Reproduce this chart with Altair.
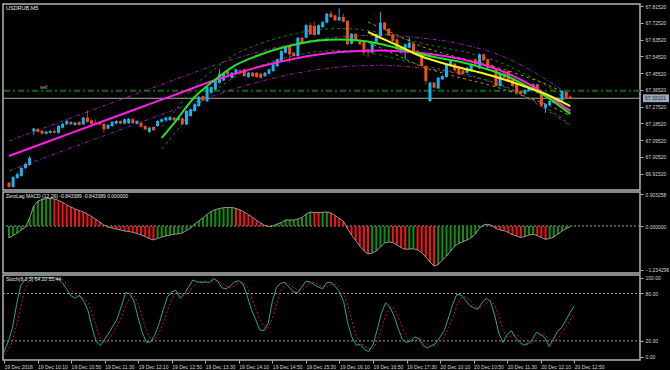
import altair as alt
import pandas as pd

# ---------------- data ----------------
OPEN = [66.867,66.844,66.892,66.903,66.946,66.962,67.144,67.155,67.146,67.130,67.135,67.144,67.135,67.162,67.180,67.193,67.177,67.193,67.180,67.216,
        67.202,67.189,67.189,67.183,67.157,67.171,67.184,67.198,67.184,67.186,67.207,67.184,67.189,67.171,67.139,67.166,67.171,67.194,67.202,67.203,
        67.216,67.203,67.212,67.180,67.225,67.252,67.278,67.332,67.305,67.350,67.368,67.403,67.416,67.466,67.430,67.452,67.470,67.475,67.434,67.457,
        67.457,67.452,67.439,67.452,67.466,67.493,67.520,67.565,67.600,67.565,67.547,67.645,67.645,67.712,67.708,67.663,67.702,67.726,67.774,67.765,
        67.738,67.756,67.735,67.613,67.666,67.627,67.622,67.583,67.565,67.618,67.654,67.726,67.693,67.663,67.636,67.565,67.583,67.591,67.613,67.574,
        67.565,67.493,67.305,67.404,67.373,67.422,67.434,67.493,67.506,67.484,67.470,67.457,67.466,67.529,67.481,67.556,67.529,67.497,67.475,67.386,
        67.449,67.466,67.422,67.395,67.359,67.344,67.359,67.368,67.395,67.341,67.269,67.284,67.305,67.300,67.309,67.354,67.329]
HIGH = [66.872,66.902,66.920,66.950,66.975,67.010,67.160,67.160,67.150,67.145,67.148,67.157,67.175,67.188,67.207,67.198,67.193,67.198,67.220,67.255,
        67.207,67.207,67.193,67.188,67.181,67.198,67.202,67.202,67.211,67.214,67.216,67.202,67.195,67.175,67.166,67.170,67.202,67.211,67.220,67.223,
        67.220,67.220,67.216,67.256,67.265,67.292,67.331,67.336,67.384,67.384,67.417,67.475,67.456,67.470,67.461,67.479,67.474,67.479,67.461,67.461,
        67.461,67.456,67.461,67.479,67.506,67.533,67.578,67.599,67.604,67.569,67.649,67.649,67.717,67.726,67.731,67.716,67.733,67.778,67.788,67.769,
        67.803,67.774,67.739,67.670,67.670,67.631,67.626,67.587,67.622,67.667,67.783,67.730,67.697,67.667,67.640,67.595,67.614,67.645,67.617,67.578,
        67.569,67.497,67.408,67.408,67.434,67.443,67.506,67.524,67.510,67.488,67.474,67.488,67.506,67.533,67.560,67.560,67.533,67.501,67.479,67.456,
        67.453,67.470,67.426,67.399,67.363,67.367,67.381,67.399,67.399,67.345,67.292,67.309,67.309,67.325,67.363,67.358,67.333]
LOW = [66.840,66.840,66.888,66.900,66.940,66.958,67.123,67.137,67.125,67.126,67.131,67.132,67.131,67.158,67.176,67.176,67.174,67.174,67.176,67.190,
       67.180,67.176,67.176,67.135,67.153,67.168,67.180,67.180,67.180,67.182,67.182,67.180,67.163,67.149,67.135,67.145,67.167,67.190,67.198,67.199,
       67.198,67.199,67.176,67.176,67.221,67.248,67.274,67.305,67.301,67.346,67.364,67.399,67.412,67.444,67.426,67.448,67.459,67.435,67.430,67.435,
       67.430,67.426,67.435,67.448,67.462,67.489,67.516,67.561,67.511,67.543,67.543,67.614,67.641,67.659,67.656,67.659,67.698,67.722,67.752,67.734,
       67.734,67.727,67.606,67.609,67.627,67.606,67.547,67.541,67.561,67.614,67.650,67.686,67.654,67.623,67.579,67.561,67.529,67.587,67.555,67.552,
       67.489,67.395,67.300,67.373,67.369,67.418,67.430,67.489,67.466,67.445,67.448,67.453,67.462,67.498,67.477,67.520,67.480,67.480,67.382,67.382,
       67.426,67.409,67.382,67.346,67.340,67.340,67.355,67.364,67.346,67.274,67.242,67.280,67.291,67.296,67.305,67.319,67.316]
CLOSE = [66.844,66.897,66.913,66.946,66.967,66.999,67.157,67.140,67.130,67.141,67.144,67.135,67.171,67.183,67.198,67.180,67.189,67.177,67.216,67.193,
         67.183,67.180,67.180,67.153,67.177,67.193,67.198,67.184,67.207,67.210,67.186,67.198,67.167,67.153,67.162,67.149,67.198,67.207,67.216,67.219,
         67.202,67.216,67.180,67.252,67.261,67.288,67.327,67.309,67.380,67.380,67.413,67.449,67.452,67.448,67.457,67.475,67.463,67.439,67.457,67.439,
         67.434,67.430,67.457,67.475,67.502,67.529,67.574,67.595,67.556,67.547,67.645,67.618,67.713,67.663,67.660,67.712,67.729,67.774,67.756,67.738,
         67.756,67.731,67.610,67.666,67.631,67.610,67.565,67.570,67.618,67.663,67.726,67.690,67.658,67.627,67.583,67.591,67.610,67.618,67.559,67.556,
         67.493,67.413,67.404,67.377,67.430,67.439,67.502,67.520,67.470,67.449,67.452,67.484,67.502,67.502,67.556,67.524,67.484,67.484,67.386,67.452,
         67.430,67.413,67.386,67.350,67.344,67.363,67.377,67.395,67.350,67.278,67.288,67.305,67.295,67.321,67.359,67.323,67.320]

# regression channels (bar index, price)
MAG_I = [0, 10, 20, 30, 40, 50, 60, 70, 80, 90, 100, 110, 120, 130, 136]
MAG_MID = [67.010, 67.092, 67.174, 67.256, 67.337, 67.418, 67.485, 67.536, 67.568, 67.577, 67.563, 67.528, 67.461, 67.343, 67.252]
MAG_UP = [67.091, 67.173, 67.255, 67.337, 67.418, 67.499, 67.566, 67.617, 67.649, 67.658, 67.643, 67.609, 67.541, 67.423, 67.332]
MAG_DN = [66.930, 67.012, 67.094, 67.176, 67.257, 67.337, 67.405, 67.456, 67.488, 67.497, 67.482, 67.447, 67.380, 67.262, 67.171]

GRN_I = [37, 40, 45, 50, 55, 60, 65, 70, 75, 80, 85, 90, 95, 100, 105, 110, 115, 120, 125, 130, 136]
GRN_MID = [67.107, 67.187, 67.327, 67.421, 67.499, 67.547, 67.584, 67.611, 67.630, 67.635, 67.630, 67.611, 67.584, 67.556, 67.533, 67.512, 67.482, 67.445, 67.391, 67.332, 67.236]
GRN_UP = [67.166, 67.246, 67.386, 67.480, 67.558, 67.606, 67.643, 67.670, 67.689, 67.694, 67.689, 67.670, 67.643, 67.615, 67.592, 67.571, 67.541, 67.504, 67.450, 67.391, 67.295]
GRN_DN = [67.048, 67.128, 67.268, 67.362, 67.439, 67.488, 67.525, 67.552, 67.571, 67.576, 67.571, 67.552, 67.525, 67.497, 67.474, 67.453, 67.423, 67.386, 67.332, 67.273, 67.177]

YEL_I = [87, 90, 95, 100, 105, 110, 115, 120, 125, 130, 136]
YEL_MID = [67.676, 67.645, 67.595, 67.544, 67.509, 67.480, 67.453, 67.421, 67.383, 67.343, 67.278]
YEL_UP = [67.729, 67.699, 67.649, 67.598, 67.563, 67.533, 67.507, 67.474, 67.437, 67.397, 67.332]
YEL_DN = [67.622, 67.591, 67.541, 67.490, 67.456, 67.426, 67.399, 67.367, 67.329, 67.289, 67.225]

SELL_LEVEL = 67.361
CUR_PRICE = 67.320
CUR_LABEL = "67.32101"
PRICE_TICKS = [67.8152, 67.7252, 67.6352, 67.5452, 67.4552, 67.3652, 67.2752, 67.1852, 67.0952, 67.0052, 66.9152]

MACD = [-0.339,-0.268,-0.198,-0.113,-0.028,0.226,0.565,0.706,0.749,0.771,0.777,0.763,0.720,0.664,0.593,0.537,0.480,0.438,0.396,0.339,
        0.268,0.189,0.113,0.028,-0.028,-0.057,-0.085,-0.113,-0.141,-0.155,-0.178,-0.212,-0.254,-0.297,-0.353,-0.395,-0.353,-0.311,-0.282,-0.254,
        -0.234,-0.218,-0.198,-0.127,-0.057,0.056,0.141,0.226,0.325,0.410,0.466,0.494,0.517,0.523,0.523,0.494,0.452,0.395,0.325,0.240,
        0.155,0.085,0.014,-0.014,0.004,0.056,0.099,0.169,0.169,0.169,0.198,0.240,0.339,0.395,0.381,0.376,0.387,0.395,0.367,0.297,
        0.212,0.141,-0.071,-0.254,-0.410,-0.565,-0.706,-0.791,-0.763,-0.706,-0.593,-0.480,-0.452,-0.466,-0.537,-0.607,-0.658,-0.650,-0.641,-0.678,
        -0.749,-0.876,-1.017,-1.130,-1.088,-0.960,-0.847,-0.706,-0.565,-0.494,-0.438,-0.395,-0.331,-0.226,-0.057,0.028,0.048,0.014,-0.071,-0.113,
        -0.133,-0.184,-0.240,-0.282,-0.325,-0.297,-0.254,-0.234,-0.268,-0.325,-0.376,-0.353,-0.311,-0.226,-0.141,-0.071,-0.020]
MACD_TICKS = [0.903258, 0.0, -1.234296]

STOCH_MAIN = [6,19,36,66,90,98,100,100,100,100,100,100,100,98,93,85,77,74,78,70.5,
              59,37,19,14,22,30,39,48,64,81,80,70,49,30,18,19,28,42,60,76,
              82,84,74,79,88,97,95,94,94.6,94,99,95.5,87,86,89.5,95,96,92,77,60,
              47,34,33,42,70,88,93,94,88,82,81,88,95.5,94.6,91,88,86,94,94,89,
              82,70,42,24,14.5,15.5,9,6.5,15,34,55,68,63,52,36,22,18,20,25,23,
              14,11,14,17,25,33,49,66,79,78,72,65,62,60,68,74,70,53,30,18,
              28,33,24,18,14.5,16.5,22,31,28,24,13,22,32,37,46,56,64.1]
STOCH_SIG = [3,8,20,40,64,85,96,99,100,100,100,100,100,99,97,92,85,79,76,74,
             69,56,38,23,18,22,30,39,50,64,75,77,66,50,32,22,22,30,43,59,
             73,81,80,79,80,88,93,95,95,94,96,96,94,90,87,90,93,94,88,76,
             61,47,38,36,48,67,84,92,92,88,84,84,88,93,94,91,88,89,91,92,
             88,80,65,45,27,18,13,10,10,19,35,52,62,61,50,37,25,20,21,23,
             21,16,13,14,19,25,36,49,65,74,76,72,66,62,63,67,71,66,51,34,
             25,26,28,25,19,16,18,23,27,28,22,20,22,30,38,46,55.44]
STOCH_TICKS = [100, 80, 20, 0]

TIME_LABELS = ["19 Dec 2018", "19 Dec 10:10", "19 Dec 10:50", "19 Dec 11:30", "19 Dec 12:10",
               "19 Dec 12:50", "19 Dec 13:30", "19 Dec 14:10", "19 Dec 14:50", "19 Dec 15:30",
               "19 Dec 16:10", "19 Dec 16:50", "19 Dec 17:30", "20 Dec 10:10", "20 Dec 10:50",
               "20 Dec 11:30", "20 Dec 12:10", "20 Dec 12:50"]
TIME_TICKS = [8 * k for k in range(len(TIME_LABELS))]

SYMBOL = "USDRUB,M5"
MACD_TITLE = "ZeroLag MACD (12,26) -0.843389 -0.843389 0.000000"
STOCH_TITLE = "Stoch(8,3,3) 64.10 55.44"

# ---------------- styling ----------------
W = 637
FONT = "Liberation Sans"
FS = 5
TXT = "#D8D8D8"
BULL = "#1CB0F4"
BEAR = "#F2501A"
BEAR_WICK = "#B8401A"
MACD_UP = "#109010"
MACD_DN = "#FF1010"

xs = alt.Scale(domain=[-0.24, 151.68], nice=False, zero=False)
X_NONE = alt.X("i:Q", scale=xs, axis=None)
x_axis = alt.Axis(values=TIME_TICKS, labelExpr=str(TIME_LABELS) + "[round(datum.value/8)]",
                  orient="bottom", title=None, grid=False, domain=False, tickSize=3,
                  tickColor="#B0B0B0", labelAlign="left", labelBaseline="top", labelPadding=1,
                  labelFontSize=FS, labelFont=FONT, labelColor=TXT,
                  labelOverlap=False, labelFlush=False, labelBound=False)
X_AX = alt.X("i:Q", scale=xs, axis=x_axis)


def yaxis(values, fmt):
    return alt.Axis(values=values, format=fmt, orient="right", title=None, grid=False,
                    domain=False, tickSize=3, tickColor="#B0B0B0", labelPadding=2,
                    labelFontSize=FS, labelFont=FONT, labelColor=TXT, labelOverlap=False,
                    labelFlush=False, labelBound=False)


price_scale = alt.Scale(domain=[66.8276, 67.826], nice=False, zero=False)
price_axis = yaxis(PRICE_TICKS, ".5f")


def PY(field):
    return alt.Y(field, type="quantitative", scale=price_scale, axis=price_axis)


# ---------------- main price panel ----------------
candles = pd.DataFrame({"i": list(range(len(OPEN))), "o": OPEN, "h": HIGH, "l": LOW, "c": CLOSE})
candles["body_col"] = [BULL if c >= o else BEAR for o, c in zip(OPEN, CLOSE)]
candles["wick_col"] = [BULL if c >= o else BEAR_WICK for o, c in zip(OPEN, CLOSE)]


def line_layer(idx, vals, color, width, dash=None):
    df = pd.DataFrame({"i": idx, "v": vals})
    kw = dict(color=color, strokeWidth=width, interpolate="monotone")
    if dash is not None:
        kw["strokeDash"] = dash
    return alt.Chart(df).mark_line(**kw).encode(x=X_NONE, y=PY("v"))


base_c = alt.Chart(candles)
wicks = base_c.mark_rule(strokeWidth=1).encode(
    x=X_NONE, y=PY("l"), y2="h", color=alt.Color("wick_col:N", scale=None))
bodies = base_c.mark_bar(size=3).encode(
    x=X_NONE, y=PY("o"), y2="c", color=alt.Color("body_col:N", scale=None))

lev = pd.DataFrame({"v": [SELL_LEVEL], "cur": [CUR_PRICE]})
sell_line = alt.Chart(lev).mark_rule(color="#0B6A0B", strokeWidth=2, strokeDash=[6, 3, 2, 3]).encode(y=PY("v"))
cur_line = alt.Chart(lev).mark_rule(color="#A8A8A8", strokeWidth=1).encode(y=PY("cur"))
sell_txt = alt.Chart(lev).mark_text(text="sell", align="left", baseline="bottom", dy=-1,
                                    fontSize=FS, font=FONT, color="#B0B0B0").encode(
    x=alt.datum(7.5), y=PY("v"))
cur_box = alt.Chart(lev).transform_calculate(top="datum.cur + 0.021", bot="datum.cur - 0.021").mark_rect(
    color="#98A8B8").encode(x=alt.value(640), x2=alt.value(666), y=PY("top"), y2="bot")
cur_txt = alt.Chart(lev).mark_text(text=CUR_LABEL, align="left", baseline="middle", fontSize=FS,
                                   font=FONT, color="#1A2A3A").encode(x=alt.value(642), y=PY("cur"))
sym_txt = alt.Chart(lev).mark_text(text=SYMBOL, align="left", baseline="top", fontSize=FS + 0.5,
                                   font=FONT, color="#E8E8E8").encode(x=alt.value(3), y=alt.value(2))

main = alt.layer(
    sell_line, cur_line,
    line_layer(MAG_I, MAG_UP, "#9A1FA8", 1, [4, 2, 1, 2]),
    line_layer(MAG_I, MAG_DN, "#9A1FA8", 1, [4, 2, 1, 2]),
    line_layer(GRN_I, GRN_UP, "#0E8A0E", 1, [3, 3]),
    line_layer(GRN_I, GRN_DN, "#0E8A0E", 1, [3, 3]),
    line_layer(YEL_I, YEL_UP, "#9A9A10", 1, [3, 3]),
    line_layer(YEL_I, YEL_DN, "#9A9A10", 1, [3, 3]),
    wicks, bodies,
    line_layer(MAG_I, MAG_MID, "#FF1EE6", 2),
    line_layer(GRN_I, GRN_MID, "#22E61E", 2),
    line_layer(YEL_I, YEL_MID, "#F5F51E", 2),
    sell_txt, cur_box, cur_txt, sym_txt,
).properties(width=W, height=186)

# ---------------- MACD panel ----------------
macd_scale = alt.Scale(domain=[-1.3277, 0.9605], nice=False, zero=False)
macd_axis = yaxis(MACD_TICKS, ".6f")


def MY(field):
    return alt.Y(field, type="quantitative", scale=macd_scale, axis=macd_axis)


mdf = pd.DataFrame({"i": list(range(len(MACD))), "v": MACD})
prev = [MACD[0] - 1] + MACD[:-1]
mdf["col"] = [MACD_UP if v >= p else MACD_DN for v, p in zip(MACD, prev)]
mdf["z"] = 0.0
zero_rule = alt.Chart(pd.DataFrame({"z": [0.0]})).mark_rule(color="#A0A0A0", strokeDash=[2, 2]).encode(y=MY("z"))
mbars = alt.Chart(mdf).mark_bar(size=2).encode(
    x=X_NONE, y=MY("v"), y2="z", color=alt.Color("col:N", scale=None))
mline = alt.Chart(mdf).mark_line(color="#9A9A9A", strokeWidth=1).encode(x=X_NONE, y=MY("v"))
mtitle = alt.Chart(pd.DataFrame({"z": [0]})).mark_text(text=MACD_TITLE, align="left", baseline="top",
                                                      fontSize=FS, font=FONT, color="#E8E8E8").encode(
    x=alt.value(3), y=alt.value(2))
macd = alt.layer(zero_rule, mbars, mline, mtitle).properties(width=W, height=81)

# ---------------- Stochastic panel ----------------
st_scale = alt.Scale(domain=[-4.2, 103.4], nice=False, zero=False)
st_axis = yaxis(STOCH_TICKS, ".2f")


def SY(field):
    return alt.Y(field, type="quantitative", scale=st_scale, axis=st_axis)


sdf = pd.DataFrame({"i": list(range(len(STOCH_MAIN))), "m": STOCH_MAIN, "s": STOCH_SIG})
levels = alt.Chart(pd.DataFrame({"lv": [80, 20]})).mark_rule(color="#A0A0A0", strokeDash=[2, 2]).encode(
    x=alt.value(0), x2=alt.value(W), y=SY("lv"))
sig = alt.Chart(sdf).mark_line(color="#E01010", strokeWidth=1, strokeDash=[2, 2]).encode(x=X_AX, y=SY("s"))
mainl = alt.Chart(sdf).mark_line(color="#20A8A0", strokeWidth=1).encode(x=X_AX, y=SY("m"))
stitle = alt.Chart(pd.DataFrame({"z": [0]})).mark_text(text=STOCH_TITLE, align="left", baseline="top",
                                                      fontSize=FS, font=FONT, color="#E8E8E8").encode(
    x=alt.value(3), y=alt.value(2))
stoch = alt.layer(levels, sig, mainl, stitle).properties(width=W, height=85)

chart = alt.vconcat(main, macd, stoch, spacing=2, bounds="flush").configure(
    background="#000000",
    padding={"left": 1, "top": 3, "right": 0, "bottom": 0},
).configure_view(stroke="#B4B4B4", strokeWidth=1.5)

chart.save("out.html", embed_options={"renderer": "svg", "actions": False})
